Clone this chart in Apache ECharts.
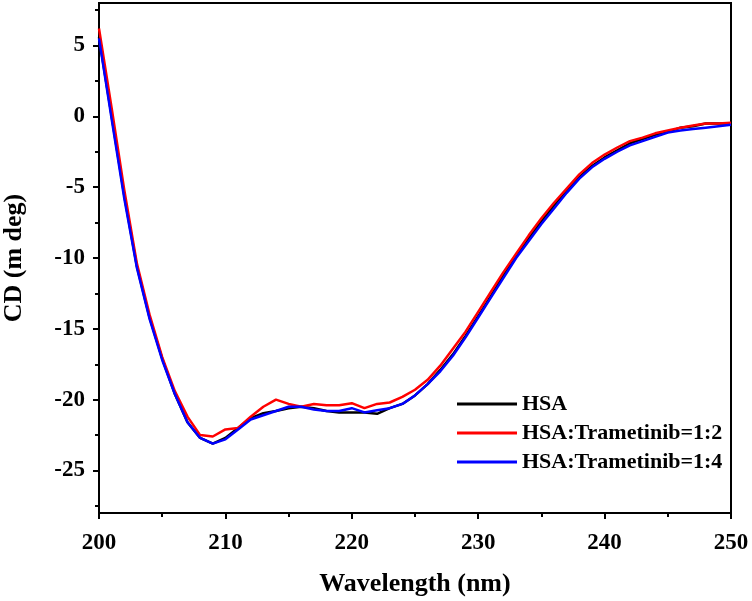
<!DOCTYPE html>
<html>
<head>
<meta charset="utf-8">
<script src="https://cdn.jsdelivr.net/npm/echarts@6/dist/echarts.min.js"></script>
<style>html,body{margin:0;padding:0;background:#fff}#c{width:752px;height:601px}</style>
</head>
<body>
<div id="c"></div>
<script>
var wavelength = [200,201,202,203,204,205,206,207,208,209,210,211,212,213,214,215,216,217,218,219,220,221,222,223,224,225,226,227,228,229,230,231,232,233,234,235,236,237,238,239,240,241,242,243,244,245,246,247,248,249,250];
var hsa = [5.6,0.0,-5.6,-10.6,-14.2,-17.1,-19.6,-21.6,-22.7,-23.1,-22.7,-22.0,-21.3,-20.95,-20.8,-20.6,-20.5,-20.6,-20.8,-20.9,-20.9,-20.9,-21.0,-20.6,-20.3,-19.7,-18.9,-17.9,-16.8,-15.5,-14.1,-12.7,-11.2,-9.9,-8.6,-7.4,-6.3,-5.2,-4.3,-3.5,-2.9,-2.4,-1.9,-1.6,-1.3,-1.1,-0.8,-0.7,-0.5,-0.5,-0.5];
var hsaTram12 = [6.2,0.6,-5.2,-10.4,-14.0,-17.0,-19.4,-21.2,-22.5,-22.6,-22.1,-22.0,-21.2,-20.5,-20.0,-20.3,-20.5,-20.3,-20.4,-20.4,-20.25,-20.6,-20.3,-20.2,-19.8,-19.3,-18.6,-17.6,-16.4,-15.2,-13.8,-12.4,-11.0,-9.7,-8.4,-7.2,-6.1,-5.1,-4.1,-3.3,-2.7,-2.2,-1.75,-1.5,-1.2,-1.0,-0.8,-0.65,-0.5,-0.5,-0.45];
var hsaTram14 = [5.5,-0.2,-5.8,-10.7,-14.3,-17.2,-19.6,-21.6,-22.7,-23.1,-22.8,-22.1,-21.4,-21.1,-20.8,-20.5,-20.5,-20.7,-20.8,-20.8,-20.6,-20.9,-20.75,-20.6,-20.3,-19.7,-18.9,-18.0,-16.9,-15.6,-14.2,-12.8,-11.4,-10.0,-8.8,-7.6,-6.5,-5.4,-4.4,-3.6,-3.0,-2.5,-2.05,-1.75,-1.45,-1.15,-1.0,-0.9,-0.8,-0.7,-0.6];
var seriesNames = ['HSA','HSA:Trametinib=1:2','HSA:Trametinib=1:4'];
var seriesColors = ['#000000','#ff0000','#0000ff'];
var yMajorTicks = [-25,-20,-15,-10,-5,0,5];
var yMinorTicks = [-27.5,-22.5,-17.5,-12.5,-7.5,-2.5,2.5,7.5];

function pairs(arr){ return wavelength.map(function(w,i){ return [w, arr[i]]; }); }
var font = '"Liberation Serif","Times New Roman",serif';
var chart = echarts.init(document.getElementById('c'));
var allData = [hsa, hsaTram12, hsaTram14];
chart.setOption({
  animation: false,
  grid: {left: 99, right: 21, top: 3, bottom: 88, show: true, borderColor: '#000', borderWidth: 2, backgroundColor: 'transparent', containLabel: false, outerBoundsMode: 'none'},
  legend: {
    orient: 'vertical', left: 457, top: 393, padding: 0, itemWidth: 60, itemHeight: 3, itemGap: 7, icon: 'rect',
    textStyle: {fontFamily: font, fontWeight: 'bold', fontSize: 22, color: '#000', lineHeight: 22, padding: [0,0,0,0]},
    data: seriesNames.map(function(n, i){ return {name: n, icon: 'rect', itemStyle: {color: seriesColors[i]}}; })
  },
  xAxis: {
    type: 'value', min: 200, max: 250, interval: 10,
    name: 'Wavelength (nm)', nameLocation: 'middle', nameGap: 58,
    nameTextStyle: {fontFamily: font, fontWeight: 'bold', fontSize: 26, color: '#000'},
    axisLine: {show: true, onZero: false, lineStyle: {color: '#000', width: 2}},
    axisTick: {show: true, inside: false, length: 6, lineStyle: {color: '#000', width: 2}},
    minorTick: {show: true, splitNumber: 2, length: 4, lineStyle: {color: '#000', width: 2}},
    splitLine: {show: false},
    axisLabel: {fontFamily: font, fontWeight: 'bold', fontSize: 23, color: '#000', margin: 19}
  },
  yAxis: [{
    type: 'value', min: -28, max: 8, position: 'left',
    name: 'CD (m deg)', nameLocation: 'middle', nameGap: 72,
    nameTextStyle: {fontFamily: font, fontWeight: 'bold', fontSize: 26, color: '#000'},
    axisLine: {show: true, onZero: false, lineStyle: {color: '#000', width: 2}},
    axisTick: {show: true, inside: false, length: 6, customValues: yMajorTicks, lineStyle: {color: '#000', width: 2}},
    splitLine: {show: false},
    axisLabel: {fontFamily: font, fontWeight: 'bold', fontSize: 23, color: '#000', margin: 14, customValues: yMajorTicks}
  },{
    type: 'value', min: -28, max: 8, position: 'left', offset: 0,
    axisLine: {show: false, onZero: false},
    axisTick: {show: true, inside: false, length: 4, customValues: yMinorTicks, lineStyle: {color: '#000', width: 2}},
    splitLine: {show: false},
    axisLabel: {show: false}
  }],
  series: seriesNames.map(function(n, i){
    return {
      name: n, type: 'line', yAxisIndex: 0, data: pairs(allData[i]),
      showSymbol: false, symbol: 'none', smooth: false,
      lineStyle: {color: seriesColors[i], width: 2.5},
      itemStyle: {color: seriesColors[i]}, z: 2 + i
    };
  })
});
</script>
</body>
</html>
